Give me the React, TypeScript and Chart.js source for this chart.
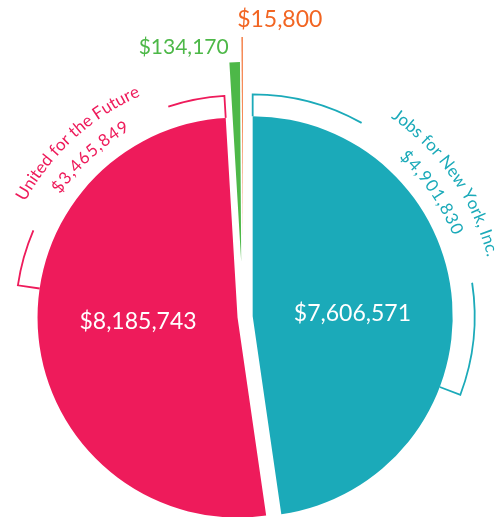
import React, { useEffect, useRef } from 'react';
import { Chart, registerables } from 'chart.js';

Chart.register(...registerables);

// ---- data ----
const categories = ['Segment A', 'Segment B', 'Segment C', 'Segment D'];
const values = [7606571, 8185743, 134170, 15800];
const colors = ['#1BAAB9', '#EE1B5B', '#4DB848', '#F26522'];
// sub-amounts shown as brackets outside a slice
const subLabels = ['Jobs for New York, Inc.', 'United for the Future'];
const subValues = [4901830, 3465849];
const subSlice = [0, 1];
const subAlign = ['start', 'end'];
// explode distance of each slice (style)
const sliceShift = [9.7, 5.5, 55, 80];

const FONT = 'Lato, "Open Sans", sans-serif';
const fmt = (v: number) => '$' + v.toLocaleString('en-US');

function arcTextWidth(ctx: CanvasRenderingContext2D, text: string, spacing: number) {
  let w = 0;
  for (const ch of text) w += ctx.measureText(ch).width + spacing;
  return w - spacing;
}

function drawArcText(ctx: CanvasRenderingContext2D, text: string, cx: number, cy: number, r: number, mid: number, spacing: number) {
  const total = arcTextWidth(ctx, text, spacing) / r;
  let a = mid - total / 2;
  for (const ch of text) {
    const w = ctx.measureText(ch).width;
    const ang = a + w / 2 / r;
    ctx.save();
    ctx.translate(cx + r * Math.cos(ang), cy + r * Math.sin(ang));
    ctx.rotate(ang + Math.PI / 2);
    ctx.fillText(ch, 0, 0);
    ctx.restore();
    a += (w + spacing) / r;
  }
}

const slicePlugin = {
  id: 'sliceDecor',
  afterDatasetUpdate(chart: any, args: any) {
    const arcs = args.meta.data as any[];
    arcs.forEach((arc, i) => {
      const mid = (arc.startAngle + arc.endAngle) / 2;
      arc.x += Math.cos(mid) * sliceShift[i];
      arc.y += Math.sin(mid) * sliceShift[i];
    });
  },
  afterDatasetsDraw(chart: any) {
    const ctx: CanvasRenderingContext2D = chart.ctx;
    const arcs = chart.getDatasetMeta(0).data as any[];
    const total = values.reduce((a, b) => a + b, 0);
    ctx.save();
    // value labels
    arcs.forEach((arc, i) => {
      const mid = (arc.startAngle + arc.endAngle) / 2;
      const R = arc.outerRadius;
      ctx.textBaseline = 'middle';
      if (arc.endAngle - arc.startAngle > 0.5) {
        ctx.font = `23px ${FONT}`;
        ctx.fillStyle = '#ffffff';
        ctx.textAlign = 'center';
        ctx.fillText(fmt(values[i]), arc.x + Math.cos(mid) * R * 0.5, arc.y + Math.sin(mid) * R * 0.2);
      } else {
        const tx = arc.x + Math.cos(mid) * R;
        const ty = arc.y + Math.sin(mid) * R;
        ctx.fillStyle = colors[i];
        if (i === 2) {
          ctx.font = `21px ${FONT}`;
          ctx.textAlign = 'right';
          ctx.fillText(fmt(values[i]), tx - 6, ty - 15);
        } else {
          ctx.font = `23px ${FONT}`;
          ctx.textAlign = 'left';
          ctx.fillText(fmt(values[i]), tx - 5, ty - 17);
        }
      }
    });
    // brackets
    subLabels.forEach((label, k) => {
      const arc = arcs[subSlice[k]];
      const R = arc.outerRadius;
      const rb = R + 22;
      const r1 = R + 42;
      const r2 = R + 16;
      const span = (subValues[k] / total) * Math.PI * 2;
      const a0 = subAlign[k] === 'start' ? arc.startAngle : arc.endAngle - span;
      const a1 = a0 + span;
      const mid = (a0 + a1) / 2;
      const col = colors[subSlice[k]];
      ctx.font = `17px ${FONT}`;
      const w1 = arcTextWidth(ctx, label, 0) / r1;
      const w2 = arcTextWidth(ctx, fmt(subValues[k]), 1) / r2;
      const gapHalf = Math.max(w1, w2) / 2 + 21 / rb;
      const cx = arc.x, cy = arc.y;
      ctx.strokeStyle = col;
      ctx.lineWidth = 1.8;
      ctx.beginPath();
      ctx.moveTo(cx + R * Math.cos(a0), cy + R * Math.sin(a0));
      ctx.lineTo(cx + rb * Math.cos(a0), cy + rb * Math.sin(a0));
      ctx.arc(cx, cy, rb, a0, mid - gapHalf);
      ctx.stroke();
      ctx.beginPath();
      ctx.arc(cx, cy, rb, mid + gapHalf, a1);
      ctx.lineTo(cx + R * Math.cos(a1), cy + R * Math.sin(a1));
      ctx.stroke();
      ctx.fillStyle = col;
      ctx.textAlign = 'center';
      ctx.textBaseline = 'alphabetic';
      drawArcText(ctx, label, cx, cy, r1, mid, 0);
      drawArcText(ctx, fmt(subValues[k]), cx, cy, r2, mid, 1);
    });
    ctx.restore();
  },
};

export default function App() {
  const ref = useRef<HTMLCanvasElement>(null);
  useEffect(() => {
    if (!ref.current) return;
    const chart = new Chart(ref.current, {
      type: 'pie',
      data: {
        labels: categories,
        datasets: [
          {
            data: values,
            backgroundColor: colors,
            borderWidth: 0,
            offset: 0,
            hoverOffset: 0,
            clip: false,
          } as any,
        ],
      },
      options: {
        responsive: false,
        animation: false,
        radius: 200,
        rotation: 0,
        events: [],
        layout: { padding: { left: 0, right: 17, top: 117, bottom: 0 } },
        plugins: { legend: { display: false }, tooltip: { enabled: false } },
      } as any,
      plugins: [slicePlugin as any],
    });
    return () => chart.destroy();
  }, []);
  return (
    <div style={{ position: 'absolute', left: 0, top: 0, width: 503, height: 517, background: '#fff' }}>
      <canvas ref={ref} width={503} height={517} style={{ display: 'block', width: 503, height: 517 }} />
    </div>
  );
}
